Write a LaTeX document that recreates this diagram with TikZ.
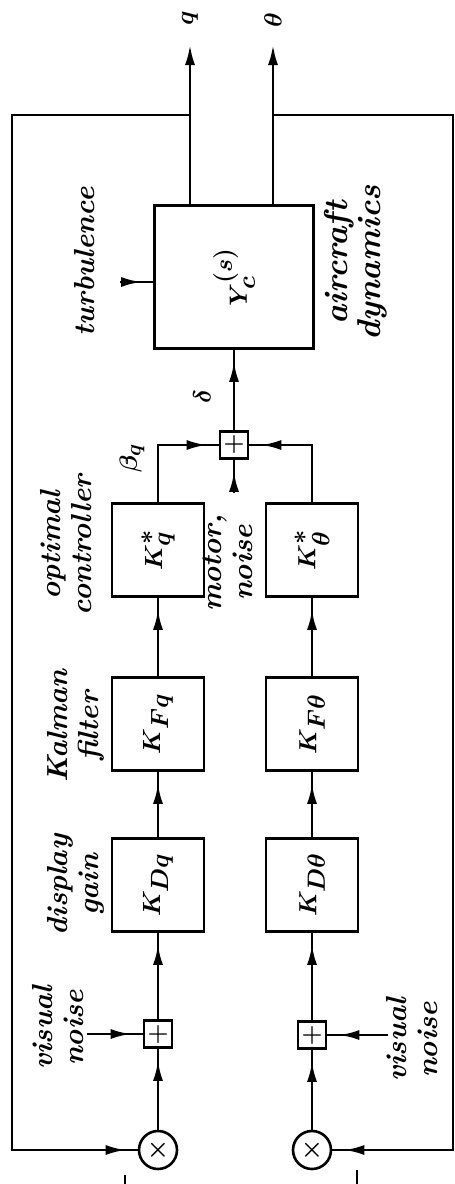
\documentclass[tikz,border=0pt]{standalone}
\usepackage{amsmath,amssymb}
\usepackage{graphicx}
\usepackage{tikz}
\usetikzlibrary{arrows.meta,decorations.markings}

\tikzset{
  blk/.style={draw, line width=2.6pt, inner sep=0pt},
  gainbox/.style={blk, minimum width=92pt, minimum height=93pt, font=\fontsize{35}{35}\selectfont\boldmath},
  sumjn/.style={blk, minimum width=28pt, minimum height=27pt, font=\fontsize{24}{24}\selectfont\bfseries},
  multjn/.style={blk, circle, minimum size=38pt, font=\fontsize{34}{34}\selectfont\boldmath},
  lbl/.style={rotate=90, align=center, font=\fontsize{29}{31}\selectfont\bfseries\itshape\boldmath},
  sig/.style={line width=2.6pt},
  flow/.style={sig, postaction={decorate}, decoration={markings, mark=at position -12pt with {\arrow{Latex[length=20pt,width=10pt]}}}},
  outsig/.style={sig, -{Latex[length=20pt,width=10pt]}},
}

\begin{document}
\begin{tikzpicture}[x=1pt,y=-1pt]
  \useasboundingbox (0,0) rectangle (455,1184);

  \node[blk, minimum width=159pt, minimum height=143pt, font=\fontsize{35}{35}\selectfont\boldmath] (yc) at (234,277) {\rotatebox{90}{$Y_{c}^{(s)}$}};
  \node[gainbox] (kcq) at (158,550) {\rotatebox{90}{$K^{*}_{q}$}};
  \node[gainbox] (kfq) at (158,724) {\rotatebox{90}{$K_{Fq}$}};
  \node[gainbox] (kdq) at (158,885) {\rotatebox{90}{$K_{Dq}$}};
  \node[gainbox] (kct) at (312,550) {\rotatebox{90}{$K^{*}_{\theta}$}};
  \node[gainbox] (kft) at (312,724) {\rotatebox{90}{$K_{F\theta}$}};
  \node[gainbox] (kdt) at (312,885) {\rotatebox{90}{$K_{D\theta}$}};
  \node[sumjn] (sd) at (234,445) {+};
  \node[sumjn] (s1) at (158,1034) {+};
  \node[sumjn] (s2) at (312,1035) {+};
  \node[multjn] (m1) at (158,1150) {$\times$};
  \node[multjn] (m2) at (312,1150) {$\times$};

  \coordinate (qout) at (190,45);
  \coordinate (tout) at (273,45);
  \coordinate (qtap) at (190,115);
  \coordinate (ttap) at (273,115);
  \coordinate (fbl) at (12,1150);
  \coordinate (fbr) at (453,1150);
  \coordinate (tb) at (120,282);
  \coordinate (mn) at (234,493);
  \coordinate (vn1) at (87,1034);
  \coordinate (vn2) at (388,1035);

  % signal paths
  \draw[flow] (m1) -- (s1);
  \draw[flow] (s1) -- (kdq);
  \draw[flow] (kdq) -- (kfq);
  \draw[flow] (kfq) -- (kcq);
  \draw[flow] (m2) -- (s2);
  \draw[flow] (s2) -- (kdt);
  \draw[flow] (kdt) -- (kft);
  \draw[flow] (kft) -- (kct);
  \draw[flow] (kcq.north) |- (sd.west);
  \draw[flow] (kct.north) |- (sd.east);
  \draw[flow] (mn) -- (sd);
  \draw[flow] (sd) -- (yc);
  \draw[flow] (tb) -- (tb -| yc.west);
  \draw[flow] (vn1) -- (s1);
  \draw[flow] (vn2) -- (s2);
  \draw[outsig] (qout |- yc.north) -- (qout);
  \draw[outsig] (tout |- yc.north) -- (tout);
  % feedback
  \draw[flow] (qtap) -| (fbl) -- (m1);
  \draw[flow] (ttap) -| (fbr) -- (m2);
  \draw[sig] (125,1175) -- (125,1184);
  \draw[sig] (357,1170) -- (357,1184);

  \node[lbl, font=\fontsize{34}{34}\selectfont\bfseries\boldmath] (qlbl) at (190,18) {$q$};
  \node[lbl, font=\fontsize{34}{34}\selectfont\bfseries\boldmath] (tlbl) at (273,20) {$\theta$};
  \node[lbl] (turb) at (85,262) {turbulence};
  \node[lbl, font=\fontsize{33}{33}\selectfont\bfseries\itshape] (acd) at (356,263) {aircraft\\dynamics};
  \node[lbl] (dlt) at (202,397) {$\delta$};
  \node[lbl] (bq) at (132,458) {$\beta_{q}$};
  \node[lbl] (ocl) at (66,545) {optimal\\controller};
  \node[lbl] (mnl) at (228,563) {motor,\\noise};
  \node[lbl] (kfl) at (76,726) {Kalman\\filter};
  \node[lbl] (dgl) at (76,885) {display\\gain};
  \node[lbl] (vnl1) at (58,1028) {visual\\noise};
  \node[lbl] (vnl2) at (412,1040) {visual\\noise};
\end{tikzpicture}
\end{document}
